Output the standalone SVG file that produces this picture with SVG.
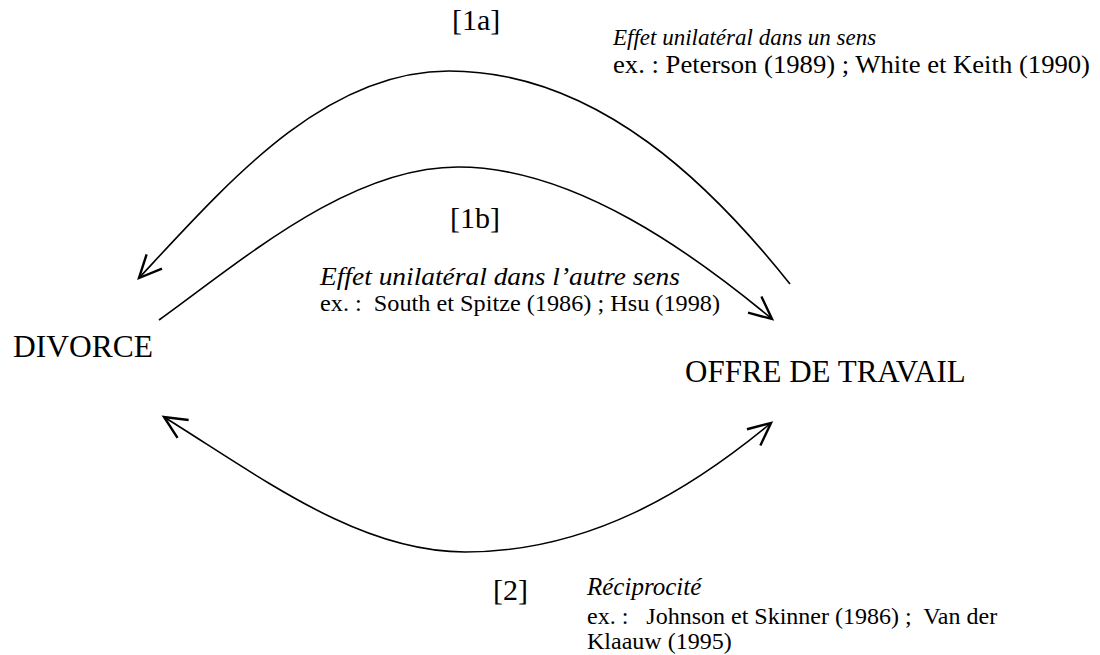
<svg xmlns="http://www.w3.org/2000/svg" width="1100" height="655" viewBox="0 0 1100 655">
<defs>
<style>
text{font-family:"Liberation Serif","Times New Roman",serif;fill:#000}
.big{font-size:31px}
.lab{font-size:30px}
.it{font-style:italic}
.c{fill:none;stroke:#000;stroke-width:1.6}
</style>
<marker id="ah" markerUnits="userSpaceOnUse" markerWidth="30" markerHeight="30" refX="0" refY="0" viewBox="-16 -10 20 20" orient="auto-start-reverse" overflow="visible">
<path d="M-15,-7 L0,0 L-15,7" fill="none" stroke="#000" stroke-width="1.6"/>
</marker>
</defs>
<rect width="1100" height="655" fill="#fff"/>
<g id="connectors">
<path id="c1a" class="c" d="M790,284 C715,190 600,71 449,71 C325,71 230,180 139,278" marker-end="url(#ah)"/>
<path id="c1b" class="c" d="M159,320 C245,258 350,167 458,167 C575,167 695,255 772,319" marker-end="url(#ah)"/>
<path id="c2" class="c" d="M164,417 C265,480 360,552 465,552 C590,552 690,490 771,423" marker-start="url(#ah)" marker-end="url(#ah)"/>
</g>
<g id="divorce"><text class="big" x="13" y="357" textLength="140" lengthAdjust="spacingAndGlyphs">DIVORCE</text></g>
<g id="offre"><text class="big" x="685" y="382">OFFRE DE TRAVAIL</text></g>
<g id="label1a">
<text class="lab" x="452" y="30">[1a]</text>
<text class="it" font-size="23" x="613" y="45">Effet unilatéral dans un sens</text>
<text font-size="25" x="613" y="73" textLength="477" lengthAdjust="spacingAndGlyphs">ex. : Peterson (1989) ; White et Keith (1990)</text>
</g>
<g id="label1b">
<text class="lab" x="450" y="228">[1b]</text>
<text class="it" font-size="26" x="320" y="285" textLength="360" lengthAdjust="spacingAndGlyphs">Effet unilatéral dans l’autre sens</text>
<text font-size="24" x="320" y="311" textLength="400" lengthAdjust="spacingAndGlyphs" xml:space="preserve">ex. :  South et Spitze (1986) ; Hsu (1998)</text>
</g>
<g id="label2">
<text class="lab" x="493" y="600">[2]</text>
<text class="it" font-size="25" x="587" y="595">Réciprocité</text>
<text font-size="24" x="587" y="624" xml:space="preserve">ex. :   Johnson et Skinner (1986) ;  Van der</text>
<text font-size="24" x="587" y="649">Klaauw (1995)</text>
</g>
</svg>
